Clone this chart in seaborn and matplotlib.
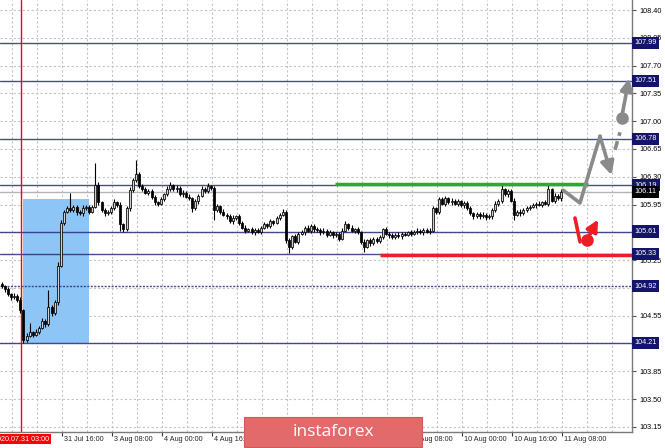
import numpy as np
import matplotlib
matplotlib.use("Agg")
import matplotlib.pyplot as plt
import matplotlib.transforms as mtransforms
from matplotlib.patches import Rectangle
import seaborn as sns

# ---------------------------------------------------------
# Data (USD/JPY H1)
# ---------------------------------------------------------
first_open = 104.95
closes = [
    104.92, 104.88, 104.82, 104.78, 104.80, 104.75, 104.62, 104.25, 104.30, 104.34,
    104.31, 104.35, 104.40, 104.48, 104.44, 104.66, 104.58, 104.72, 105.18, 105.72,
    105.86, 105.90, 105.88, 105.92, 105.86, 105.84, 105.90, 105.92, 105.86, 105.92,
    106.20, 105.98, 105.88, 105.84, 105.86, 105.90, 105.98, 105.95, 105.70, 105.64,
    105.90, 106.13, 106.26, 106.34, 106.18, 106.15, 106.10, 106.12, 106.04, 105.98,
    105.96, 106.02, 106.08, 106.15, 106.19, 106.14, 106.16, 106.08, 106.10, 106.05,
    106.03, 105.90, 105.99, 106.06, 106.15, 106.12, 106.18, 106.16, 105.88, 105.93,
    105.86, 105.82, 105.80, 105.74, 105.78, 105.80, 105.72, 105.66, 105.62, 105.64,
    105.60, 105.63, 105.61, 105.66, 105.70, 105.68, 105.74, 105.72, 105.78, 105.82,
    105.86, 105.50, 105.42, 105.55, 105.48, 105.58, 105.60, 105.66, 105.62, 105.68,
    105.64, 105.63, 105.60, 105.62, 105.57, 105.60, 105.56, 105.58, 105.52, 105.62,
    105.70, 105.66, 105.62, 105.64, 105.60, 105.48, 105.42, 105.50, 105.46, 105.52,
    105.49, 105.54, 105.64, 105.58, 105.56, 105.54, 105.57, 105.55, 105.58, 105.57,
    105.60, 105.58, 105.61, 105.62, 105.60, 105.63, 105.61, 105.62, 105.90, 105.86,
    106.02, 105.96, 106.03, 105.98, 106.00, 105.96, 105.99, 105.94, 105.97, 105.90,
    105.84, 105.80, 105.83, 105.80, 105.82, 105.79, 105.80, 105.88, 105.96, 106.00,
    106.14, 106.08, 106.12, 106.00, 105.82, 105.86, 105.84, 105.88, 105.90, 105.92,
    105.94, 105.96, 105.95, 105.98, 105.96, 106.14, 106.00, 106.06, 106.03, 106.11,
]
wick_hi = [
    0.03, 0.02, 0.03, 0.02, 0.04, 0.02, 0.03, 0.02, 0.03, 0.12,
    0.02, 0.03, 0.02, 0.04, 0.03, 0.21, 0.02, 0.03, 0.04, 0.03,
    0.02, 0.03, 0.20, 0.02, 0.03, 0.02, 0.04, 0.02, 0.03, 0.02,
    0.27, 0.03, 0.02, 0.03, 0.02, 0.03, 0.04, 0.02, 0.03, 0.02,
    0.03, 0.04, 0.03, 0.17, 0.02, 0.03, 0.02, 0.03, 0.02, 0.03,
    0.02, 0.03, 0.02, 0.03, 0.04, 0.02, 0.03, 0.02, 0.03, 0.02,
    0.03, 0.02, 0.03, 0.02, 0.03, 0.02, 0.04, 0.02, 0.02, 0.03,
    0.02, 0.03, 0.02, 0.03, 0.04, 0.02, 0.03, 0.02, 0.03, 0.02,
    0.03, 0.02, 0.03, 0.02, 0.03, 0.02, 0.03, 0.02, 0.03, 0.02,
    0.03, 0.02, 0.03, 0.02, 0.03, 0.02, 0.03, 0.02, 0.03, 0.02,
    0.02, 0.03, 0.02, 0.03, 0.02, 0.03, 0.02, 0.03, 0.02, 0.03,
    0.04, 0.02, 0.03, 0.02, 0.03, 0.02, 0.03, 0.02, 0.03, 0.02,
    0.02, 0.03, 0.02, 0.03, 0.02, 0.03, 0.02, 0.03, 0.02, 0.03,
    0.02, 0.03, 0.02, 0.03, 0.02, 0.03, 0.02, 0.03, 0.03, 0.02,
    0.03, 0.02, 0.03, 0.02, 0.03, 0.02, 0.03, 0.02, 0.03, 0.02,
    0.03, 0.02, 0.03, 0.02, 0.03, 0.02, 0.03, 0.02, 0.03, 0.02,
    0.08, 0.02, 0.03, 0.02, 0.03, 0.02, 0.03, 0.02, 0.03, 0.02,
    0.03, 0.02, 0.03, 0.02, 0.03, 0.07, 0.02, 0.03, 0.02, 0.03,
]
wick_lo = [
    0.02, 0.03, 0.02, 0.03, 0.02, 0.03, 0.04, 0.04, 0.03, 0.02,
    0.03, 0.02, 0.03, 0.02, 0.03, 0.02, 0.03, 0.02, 0.03, 0.02,
    0.03, 0.02, 0.03, 0.02, 0.04, 0.02, 0.03, 0.02, 0.03, 0.02,
    0.02, 0.03, 0.02, 0.03, 0.02, 0.03, 0.02, 0.03, 0.08, 0.03,
    0.02, 0.03, 0.02, 0.03, 0.02, 0.03, 0.02, 0.03, 0.02, 0.03,
    0.03, 0.02, 0.03, 0.02, 0.03, 0.02, 0.03, 0.02, 0.03, 0.02,
    0.02, 0.04, 0.02, 0.03, 0.02, 0.03, 0.02, 0.03, 0.12, 0.02,
    0.03, 0.02, 0.03, 0.02, 0.03, 0.02, 0.03, 0.02, 0.03, 0.02,
    0.02, 0.03, 0.02, 0.03, 0.02, 0.03, 0.02, 0.03, 0.02, 0.03,
    0.02, 0.03, 0.08, 0.03, 0.02, 0.03, 0.02, 0.03, 0.02, 0.03,
    0.03, 0.02, 0.03, 0.02, 0.03, 0.02, 0.03, 0.02, 0.03, 0.02,
    0.02, 0.03, 0.02, 0.03, 0.02, 0.03, 0.07, 0.02, 0.03, 0.02,
    0.03, 0.02, 0.03, 0.02, 0.03, 0.02, 0.03, 0.02, 0.03, 0.02,
    0.02, 0.03, 0.02, 0.03, 0.02, 0.03, 0.02, 0.03, 0.02, 0.03,
    0.03, 0.02, 0.03, 0.02, 0.03, 0.02, 0.03, 0.02, 0.03, 0.02,
    0.02, 0.03, 0.02, 0.03, 0.02, 0.03, 0.02, 0.03, 0.02, 0.03,
    0.03, 0.02, 0.03, 0.02, 0.06, 0.02, 0.03, 0.02, 0.03, 0.02,
    0.02, 0.03, 0.02, 0.03, 0.02, 0.03, 0.02, 0.03, 0.02, 0.03,
]

# niveles horizontales
levels = [107.99, 107.51, 106.78, 106.19, 105.61, 105.33, 104.92, 104.21]
current_price = 106.11
resist_level = 106.21     # linea verde
support_level = 105.32    # linea roja
resist_span = [106.7, 187.7]
support_span = [121.1, 201.7]

# zona azul y linea vertical roja
zone_x = [6.86, 27.98]
zone_y = [104.21, 106.02]
marker_bar = 6.22
marker_label = "2020.07.31 03:00"

# escenarios (indice de barra, precio)
gray_path_x = [179.7, 185.1, 191.5]
gray_path_y = [106.13, 105.97, 106.81]
gray_head = [195.2, 106.32]
gray_dash_x = [196.3, 197.9]
gray_dash_y = [106.64, 106.86]
gray_dot = [198.4, 107.04]
gray_tip = [200.8, 107.54]

red_stroke_x = [183.5, 185.1]
red_stroke_y = [105.78, 105.48]
red_dot = [187.2, 105.50]
red_tip = [190.9, 105.76]

# etiquetas del eje x (las tapadas por el logo van vacias)
x_labels = ["31 Jul 16:00", "3 Aug 08:00", "4 Aug 00:00", "4 Aug 16:00",
            "", "", "", "7 Aug 08:00",
            "10 Aug 00:00", "10 Aug 16:00", "11 Aug 08:00"]
y_ticks = [103.15, 103.50, 103.85, 104.20, 104.55, 104.90, 105.25, 105.60,
           105.95, 106.30, 106.65, 107.00, 107.35, 107.70, 108.05, 108.40]
y_hidden = [104.20, 104.90, 105.60]   # quedan bajo las etiquetas de nivel

# ---------------------------------------------------------
sns.set_style("white")
plt.rcParams['font.family'] = ['Liberation Sans', 'DejaVu Sans']

fig = plt.figure(figsize=(6.65, 4.48), dpi=100)
ax = fig.add_axes([0, 16 / 448, 632 / 665, 432 / 448])
ax.set_xlim(-0.5, 201.74)
ax.set_ylim(103.085, 108.526)

# grid
for gx in np.arange(3.34, 202, 8):
    ax.axvline(gx, color='#c4c4c4', lw=0.8, ls=(0, (2, 2)), zorder=0)
for gy in y_ticks:
    ax.axhline(gy, color='#c4c4c4', lw=0.8, ls=(0, (2, 2)), zorder=0)

# zona azul
ax.add_patch(Rectangle((zone_x[0], zone_y[0]), zone_x[1] - zone_x[0], zone_y[1] - zone_y[0],
                       color='#8cc5f6', lw=0, zorder=1))

# niveles
for lv in levels:
    ls = (0, (1.5, 1)) if lv == 104.92 else '-'
    ax.axhline(lv, color='#2a2a7e', lw=1.0, ls=ls, alpha=0.85, zorder=2)
ax.axhline(current_price, color='#b4b4b4', lw=1.0, zorder=2)
ax.axvline(marker_bar, color='#ff0000', lw=1.0, zorder=2)

# velas
x = np.arange(len(closes))
c = np.array(closes)
o = np.array([first_open] + closes[:-1])
hi = np.maximum(o, c) + np.array(wick_hi)
lo = np.minimum(o, c) - np.array(wick_lo)
up = c >= o
ax.vlines(x, lo, hi, color='black', lw=0.8, zorder=3)
ax.bar(x[up], (c - o)[up], bottom=o[up], width=0.65, color='#cfcfcf',
       edgecolor='black', linewidth=0.55, zorder=4)
ax.bar(x[~up], (o - c)[~up], bottom=c[~up], width=0.65, color='black',
       edgecolor='black', linewidth=0.55, zorder=4)

# lineas verde / roja
ax.hlines(resist_level, resist_span[0], resist_span[1], color='#23b023', lw=2.5, zorder=5)
ax.hlines(support_level, support_span[0], support_span[1], color='#ee1c24', lw=2.5, zorder=5)

# escenario gris
sns.lineplot(x=gray_path_x, y=gray_path_y, sort=False, color='#8a8a8a', lw=2.6, ax=ax, zorder=6)
ax.annotate("", xy=gray_head, xytext=(gray_path_x[-1], gray_path_y[-1]),
            arrowprops=dict(arrowstyle='-|>', color='#8a8a8a', lw=2.6,
                            mutation_scale=20, shrinkA=0, shrinkB=0), zorder=6)
ax.plot(gray_dash_x, gray_dash_y, color='#8a8a8a', lw=2.6, ls=(0, (2.5, 1.5)), zorder=6)
ax.plot(*gray_dot, marker='o', ms=8, color='#8a8a8a', zorder=6)
ax.annotate("", xy=gray_tip, xytext=gray_dot,
            arrowprops=dict(arrowstyle='-|>', color='#8a8a8a', lw=2.6,
                            mutation_scale=18, shrinkA=0, shrinkB=0), zorder=6)

# escenario rojo
ax.plot(red_stroke_x, red_stroke_y, color='#ee1c24', lw=2.6, zorder=6)
ax.plot(*red_dot, marker='o', ms=8, color='#ee1c24', zorder=6)
ax.annotate("", xy=red_tip, xytext=red_dot,
            arrowprops=dict(arrowstyle='-|>', color='#ee1c24', lw=2.6,
                            mutation_scale=17, shrinkA=0, shrinkB=0), zorder=6)

# ejes
for s in ['top', 'left']:
    ax.spines[s].set_visible(False)
for s in ['right', 'bottom']:
    ax.spines[s].set_color('#7a7a7a')
    ax.spines[s].set_linewidth(1.0)
ax.yaxis.tick_right()
ax.set_yticks(y_ticks)
ax.set_yticklabels(["" if v in y_hidden else f"{v:.2f}" for v in y_ticks])
ax.tick_params(axis='y', right=True, length=3, width=0.8, pad=2, labelsize=5.2,
               color='#555555', labelcolor='black')

x_ticks = [19.34 + 16 * k for k in range(len(x_labels))]
ax.set_xticks(x_ticks)
ax.set_xticklabels([])
ax.tick_params(axis='x', bottom=True, length=3, width=0.8, color='#333333', direction='out')
for xt, lab in zip(x_ticks, x_labels):
    if lab:
        ax.annotate(lab, xy=(xt, 0), xycoords=('data', 'axes fraction'),
                    xytext=(2, -7), textcoords='offset pixels', ha='left', va='center',
                    fontsize=5.2, annotation_clip=False)

# etiqueta fecha roja
ax.annotate(marker_label, xy=(marker_bar, 0), xycoords=('data', 'axes fraction'),
            xytext=(0, -7), textcoords='offset pixels', ha='center', va='center',
            fontsize=5.2, color='white', annotation_clip=False, zorder=8,
            bbox=dict(boxstyle='square,pad=0.25', fc='#ff0000', ec='none'))

# etiquetas de niveles
trans = mtransforms.blended_transform_factory(ax.transAxes, ax.transData)
for lv in levels:
    ax.text(1.004, lv, f"{lv:.2f}", transform=trans, ha='left', va='center',
            fontsize=5.2, color='white', clip_on=False, zorder=8,
            bbox=dict(boxstyle='square,pad=0.35', fc='#14146a', ec='none'))
ax.text(1.004, current_price, f"{current_price:.2f}", transform=trans, ha='left',
        va='center', fontsize=5.2, color='white', clip_on=False, zorder=9,
        bbox=dict(boxstyle='square,pad=0.35', fc='black', ec='none'))

# logo
fig.patches.append(Rectangle((244 / 665, 1 - 447 / 448), 178 / 665, 30 / 448,
                             transform=fig.transFigure, fc='#e26a6a', ec='#d05a5a',
                             lw=0.8, zorder=20))
fig.text(333 / 665, 1 - 432 / 448, "instaforex", ha='center', va='center',
         fontsize=12.5, color='white', family='Open Sans', zorder=21)

plt.savefig('out.png', dpi=100)
plt.close()
